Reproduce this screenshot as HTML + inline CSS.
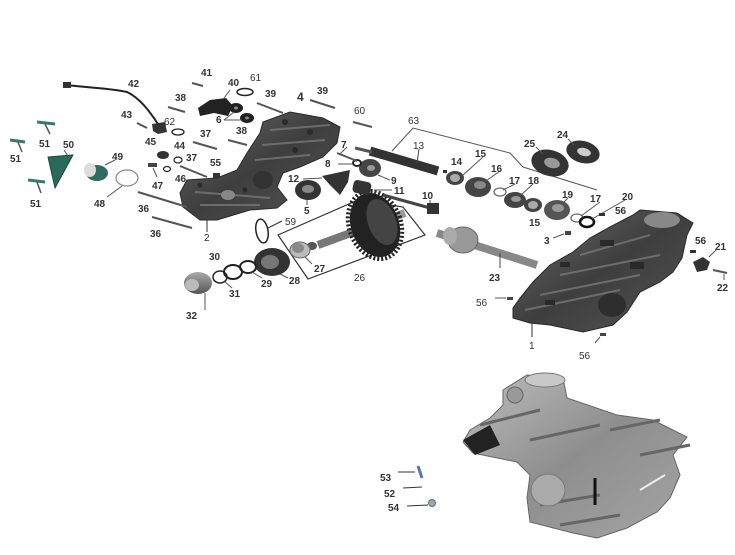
<!DOCTYPE html>
<html><head><meta charset="utf-8"><style>
html,body{margin:0;padding:0;background:#fff;}
svg{display:block;}
text{font-family:"Liberation Sans",sans-serif;font-size:10px;font-weight:bold;fill:#333;}
</style></head><body>
<svg width="735" height="555" viewBox="0 0 735 555" xmlns="http://www.w3.org/2000/svg">
<defs>
<linearGradient id="dk" x1="0" y1="0" x2="1" y2="1">
<stop offset="0" stop-color="#6a6a6a"/><stop offset="0.5" stop-color="#3e3e3e"/><stop offset="1" stop-color="#555"/>
</linearGradient>
<linearGradient id="lt" x1="0" y1="0" x2="1" y2="1">
<stop offset="0" stop-color="#bdbdbd"/><stop offset="0.5" stop-color="#8e8e8e"/><stop offset="1" stop-color="#a5a5a5"/>
</linearGradient>
<linearGradient id="sh" x1="0" y1="0" x2="0" y2="1">
<stop offset="0" stop-color="#aaa"/><stop offset="1" stop-color="#555"/>
</linearGradient>
</defs>
<rect width="735" height="555" fill="#fff"/>

<!-- LEFT CASING (2/4) -->
<polygon fill="url(#dk)" stroke="#2a2a2a" stroke-width="1" points="263,122 290,112 323,118 340,127 337,143 323,157 300,167 283,173 277,187 287,200 277,208 250,210 217,220 200,220 183,207 180,193 187,180 217,178 237,170 247,153 260,133"/>
<g stroke="#777" stroke-width="2" fill="none" opacity="0.8">
<path d="M270,130 L330,125"/><path d="M262,145 L325,140"/><path d="M255,160 L310,155"/><path d="M195,192 L270,198"/><path d="M200,205 L260,205"/>
</g>
<g fill="#2a2a2a">
<circle cx="285" cy="122" r="3"/><circle cx="310" cy="132" r="3"/><circle cx="295" cy="150" r="3"/><circle cx="200" cy="185" r="2.5"/><circle cx="245" cy="190" r="2.5"/>
</g>
<ellipse cx="263" cy="180" rx="10" ry="9" fill="#333"/>
<ellipse cx="228" cy="195" rx="7" ry="5" fill="#888"/>
<line x1="207" y1="220" x2="207" y2="232" stroke="#333"/>

<!-- RIGHT CASING (1) -->
<polygon fill="url(#dk)" stroke="#2a2a2a" stroke-width="1" points="640,210 677,213 693,223 687,235 682,258 673,272 660,282 640,292 627,312 613,325 583,332 550,325 530,323 513,318 513,308 520,298 533,282 550,265 573,252 590,238 610,227 633,215"/>
<g stroke="#777" stroke-width="2" fill="none" opacity="0.8">
<path d="M580,255 L650,235"/><path d="M560,275 L660,255"/><path d="M540,295 L640,275"/><path d="M525,310 L620,290"/>
</g>
<g fill="#2a2a2a">
<rect x="600" y="240" width="14" height="6"/><rect x="560" y="262" width="10" height="5"/><rect x="630" y="262" width="14" height="7"/><rect x="545" y="300" width="10" height="5"/>
</g>
<ellipse cx="662" cy="220" rx="18" ry="8" fill="#888"/>
<ellipse cx="612" cy="305" rx="14" ry="12" fill="#2e2e2e"/>
<line x1="532" y1="322" x2="532" y2="337" stroke="#333"/>

<!-- BOTTOM ASSEMBLED ENGINE -->
<polygon fill="url(#lt)" stroke="#666" stroke-width="1" points="503,390 527,375 563,378 567,398 617,415 653,420 687,437 673,455 680,475 670,498 657,512 627,528 597,538 573,533 530,522 527,498 530,475 517,462 473,453 463,442 470,430 490,418 503,405"/>
<ellipse cx="545" cy="380" rx="20" ry="7" fill="#c8c8c8" stroke="#777"/>
<ellipse cx="515" cy="395" rx="8" ry="8" fill="#999" stroke="#666"/>
<path d="M463,440 L490,425 L500,445 L475,455 Z" fill="#222"/>
<g stroke="#666" stroke-width="3" fill="none">
<path d="M480,425 L540,410"/><path d="M530,440 L600,425"/><path d="M610,430 L660,420"/><path d="M640,455 L690,445"/><path d="M540,505 L600,495"/><path d="M560,525 L620,515"/>
</g>
<ellipse cx="548" cy="490" rx="17" ry="16" fill="#aaa" stroke="#777"/>
<line x1="595" y1="478" x2="595" y2="505" stroke="#111" stroke-width="3"/>
<path d="M640,490 L665,475" stroke="#eee" stroke-width="2"/>

<!-- bolts 53/52/54 -->
<line x1="398" y1="472" x2="415" y2="472" stroke="#333"/>
<line x1="418" y1="466" x2="422" y2="478" stroke="#5577aa" stroke-width="3"/>
<line x1="403" y1="488" x2="422" y2="487" stroke="#333"/>
<line x1="407" y1="506" x2="428" y2="505" stroke="#333"/>
<circle cx="432" cy="503" r="3.5" fill="#9aa" stroke="#577"/>
<text x="380" y="481">53</text><text x="384" y="497">52</text><text x="388" y="511">54</text>

<!-- BOX 26 -->
<polygon points="278,235 358,200 403,207 425,235 308,279" fill="none" stroke="#333" stroke-width="1.2"/>
<line x1="318" y1="245" x2="405" y2="213" stroke="#999" stroke-width="8"/>
<line x1="318" y1="245" x2="370" y2="226" stroke="#777" stroke-width="8"/>
<ellipse cx="375" cy="225" rx="24" ry="33" fill="#222" transform="rotate(-20 375 225)"/>
<ellipse cx="375" cy="225" rx="26" ry="35" fill="none" stroke="#222" stroke-width="4" stroke-dasharray="2 2" transform="rotate(-20 375 225)"/>
<ellipse cx="382" cy="222" rx="14" ry="24" fill="#444" transform="rotate(-20 382 222)"/>
<ellipse cx="312" cy="246" rx="5" ry="4" fill="#555"/>
<!-- 27 -->
<ellipse cx="300" cy="250" rx="10" ry="8" fill="#bbb" stroke="#666"/>
<ellipse cx="298" cy="248" rx="6" ry="5" fill="#888"/>
<!-- 59 ring -->
<ellipse cx="262" cy="231" rx="6" ry="12" fill="none" stroke="#222" stroke-width="1.5" transform="rotate(-10 262 231)"/>
<line x1="268" y1="228" x2="282" y2="221" stroke="#333"/>
<!-- 28 -->
<ellipse cx="272" cy="262" rx="18" ry="14" fill="#333"/>
<ellipse cx="270" cy="262" rx="9" ry="7" fill="#777"/>
<!-- 29 30 31 rings -->
<ellipse cx="248" cy="267" rx="8" ry="6" fill="none" stroke="#222" stroke-width="2"/>
<ellipse cx="233" cy="272" rx="9" ry="7" fill="none" stroke="#222" stroke-width="2"/>
<ellipse cx="220" cy="277" rx="7" ry="6" fill="none" stroke="#222" stroke-width="1.5"/>
<!-- 32 -->
<ellipse cx="198" cy="283" rx="14" ry="11" fill="url(#sh)"/>
<ellipse cx="192" cy="285" rx="7" ry="6" fill="#bbb"/>
<line x1="205" y1="293" x2="205" y2="310" stroke="#555"/>
<line x1="225" y1="282" x2="232" y2="288" stroke="#555"/>
<line x1="252" y1="272" x2="262" y2="278" stroke="#555"/>
<line x1="280" y1="274" x2="288" y2="278" stroke="#555"/>
<line x1="305" y1="257" x2="312" y2="264" stroke="#555"/>

<text x="209" y="260">30</text><text x="229" y="297">31</text><text x="261" y="287">29</text><text x="289" y="284">28</text>
<text x="314" y="272">27</text><text x="186" y="319">32</text><text x="354" y="281" style="font-weight:normal">26</text>
<text x="285" y="225" style="font-weight:normal">59</text>

<!-- 23 shaft -->
<line x1="437" y1="233" x2="537" y2="265" stroke="#888" stroke-width="8"/>
<ellipse cx="463" cy="240" rx="15" ry="13" fill="#999" stroke="#666"/>
<ellipse cx="450" cy="236" rx="7" ry="9" fill="#aaa"/>
<line x1="500" y1="253" x2="500" y2="268" stroke="#444"/>
<text x="489" y="281">23</text>

<!-- 63 bracket -->
<polyline points="392,151 413,128 510,153 523,167 597,190" fill="none" stroke="#555"/>
<text x="408" y="124" style="font-weight:normal">63</text>
<!-- 13 shaft -->
<line x1="370" y1="151" x2="438" y2="171" stroke="#333" stroke-width="9"/>
<line x1="355" y1="148" x2="372" y2="152" stroke="#555" stroke-width="3"/>
<line x1="419" y1="149" x2="417" y2="163" stroke="#444"/>
<text x="413" y="149" style="font-weight:normal">13</text>
<!-- 14..20 -->
<rect x="443" y="170" width="4" height="3" fill="#333"/>
<ellipse cx="455" cy="178" rx="9" ry="7" fill="#444"/><ellipse cx="455" cy="178" rx="5" ry="4" fill="#aaa"/>
<ellipse cx="478" cy="187" rx="13" ry="10" fill="#444"/><ellipse cx="480" cy="185" rx="6" ry="4" fill="#888"/>
<ellipse cx="500" cy="192" rx="6" ry="4" fill="none" stroke="#666" stroke-width="1.2"/>
<ellipse cx="515" cy="200" rx="11" ry="8" fill="#444"/><ellipse cx="516" cy="199" rx="5" ry="3" fill="#999"/>
<ellipse cx="533" cy="205" rx="9" ry="7" fill="#444"/><ellipse cx="533" cy="205" rx="5" ry="4" fill="#aaa"/>
<ellipse cx="557" cy="210" rx="13" ry="10" fill="#555"/><ellipse cx="558" cy="208" rx="6" ry="4" fill="#999"/>
<ellipse cx="577" cy="218" rx="6" ry="4" fill="none" stroke="#666" stroke-width="1.2"/>
<ellipse cx="587" cy="222" rx="7" ry="5" fill="none" stroke="#111" stroke-width="2.5"/>
<!-- 25, 24 -->
<ellipse cx="550" cy="163" rx="19" ry="13" fill="#333" transform="rotate(15 550 163)"/>
<ellipse cx="552" cy="163" rx="8" ry="5" fill="#999" transform="rotate(15 552 163)"/>
<ellipse cx="583" cy="152" rx="17" ry="11" fill="#333" transform="rotate(15 583 152)"/>
<ellipse cx="584" cy="152" rx="7" ry="4" fill="#ccc" transform="rotate(15 584 152)"/>
<line x1="536" y1="147" x2="543" y2="154" stroke="#555"/>
<line x1="568" y1="139" x2="574" y2="145" stroke="#555"/>
<line x1="483" y1="157" x2="462" y2="176" stroke="#555"/>
<line x1="500" y1="171" x2="486" y2="181" stroke="#555"/>
<line x1="515" y1="184" x2="503" y2="190" stroke="#555"/>
<line x1="533" y1="184" x2="521" y2="195" stroke="#555"/>
<line x1="568" y1="198" x2="562" y2="204" stroke="#555"/>
<line x1="600" y1="202" x2="581" y2="216" stroke="#555"/>
<line x1="625" y1="200" x2="592" y2="219" stroke="#555"/>
<text x="451" y="165">14</text><text x="475" y="157">15</text><text x="491" y="172">16</text>
<text x="509" y="184">17</text><text x="528" y="184">18</text><text x="562" y="198">19</text>
<text x="529" y="226">15</text><text x="590" y="202">17</text><text x="622" y="200">20</text>
<text x="524" y="147">25</text><text x="557" y="138">24</text>
<!-- 56s, 3, 21, 22 -->
<rect x="599" y="213" width="6" height="3" fill="#333"/>
<text x="615" y="214">56</text>
<rect x="565" y="231" width="6" height="4" fill="#444"/><line x1="553" y1="238" x2="564" y2="234" stroke="#555"/>
<text x="544" y="244">3</text>
<rect x="690" y="250" width="6" height="3" fill="#333"/>
<text x="695" y="244">56</text>
<polygon points="693,262 703,257 710,262 707,270 697,272" fill="#333"/>
<line x1="709" y1="257" x2="716" y2="250" stroke="#555"/>
<text x="715" y="250">21</text>
<line x1="713" y1="270" x2="727" y2="273" stroke="#555" stroke-width="2"/>
<line x1="724" y1="274" x2="724" y2="280" stroke="#555"/>
<text x="717" y="291">22</text>
<rect x="507" y="297" width="6" height="3" fill="#444"/><line x1="495" y1="298" x2="506" y2="298" stroke="#555"/>
<text x="476" y="306" style="font-weight:normal">56</text>
<rect x="600" y="333" width="6" height="3" fill="#444"/><line x1="595" y1="343" x2="600" y2="337" stroke="#555"/>
<text x="579" y="359" style="font-weight:normal">56</text>
<text x="529" y="349" style="font-weight:normal">1</text>

<!-- 9, 8, 7, 11, 10, 12, 5 -->
<ellipse cx="370" cy="168" rx="11" ry="9" fill="#444"/><ellipse cx="371" cy="168" rx="4" ry="3" fill="#999"/>
<line x1="378" y1="175" x2="390" y2="180" stroke="#555"/>
<text x="391" y="184">9</text>
<ellipse cx="357" cy="163" rx="4" ry="3" fill="none" stroke="#222" stroke-width="2"/>
<text x="325" y="167">8</text><line x1="338" y1="164" x2="352" y2="164" stroke="#555"/>
<line x1="337" y1="153" x2="357" y2="161" stroke="#555" stroke-width="2"/>
<line x1="347" y1="147" x2="340" y2="154" stroke="#555"/>
<text x="341" y="148">7</text>
<rect x="353" y="181" width="18" height="13" rx="4" fill="#333" transform="rotate(12 362 187)"/>
<line x1="374" y1="190" x2="392" y2="190" stroke="#555"/>
<text x="394" y="194">11</text>
<line x1="383" y1="195" x2="430" y2="208" stroke="#444" stroke-width="3"/>
<rect x="427" y="203" width="12" height="11" fill="#333"/>
<line x1="430" y1="200" x2="430" y2="203" stroke="#555"/>
<text x="422" y="199">10</text>
<polygon points="322,176 350,170 348,182 340,195 330,185" fill="#333"/>
<text x="288" y="182">12</text><line x1="303" y1="179" x2="322" y2="178" stroke="#555"/>
<ellipse cx="308" cy="190" rx="13" ry="10" fill="#333"/><ellipse cx="308" cy="189" rx="6" ry="4" fill="#888"/>
<line x1="307" y1="200" x2="307" y2="205" stroke="#555"/>
<text x="304" y="214">5</text>

<!-- top bolts -->
<g stroke="#555" stroke-width="2">
<line x1="192" y1="83" x2="203" y2="86"/>
<line x1="168" y1="107" x2="185" y2="112"/>
<line x1="257" y1="103" x2="283" y2="113"/>
<line x1="310" y1="100" x2="335" y2="108"/>
<line x1="353" y1="122" x2="372" y2="127"/>
<line x1="228" y1="140" x2="247" y2="145"/>
<line x1="193" y1="142" x2="217" y2="149"/>
<line x1="180" y1="166" x2="207" y2="177"/>
<line x1="138" y1="192" x2="187" y2="207"/>
<line x1="152" y1="217" x2="192" y2="228"/>
</g>
<text x="201" y="76">41</text><text x="228" y="86">40</text><text x="250" y="81" style="font-weight:normal">61</text>
<text x="175" y="101">38</text><text x="265" y="97">39</text><text x="297" y="101" style="font-size:12px">4</text>
<text x="317" y="94">39</text><text x="354" y="114" style="font-weight:normal">60</text>
<text x="236" y="134">38</text><text x="200" y="137">37</text><text x="186" y="161">37</text>
<text x="138" y="212">36</text><text x="150" y="237">36</text><text x="204" y="241" style="font-weight:normal">2</text>
<text x="216" y="123">6</text>
<!-- 40, 6, 61 -->
<polygon points="198,108 210,100 226,98 233,106 228,116 214,113 200,116" fill="#222"/>
<ellipse cx="236" cy="108" rx="7" ry="5" fill="#222"/><ellipse cx="236" cy="108" rx="2" ry="1.5" fill="#888"/>
<ellipse cx="247" cy="118" rx="7" ry="5" fill="#222"/><ellipse cx="247" cy="118" rx="2" ry="1.5" fill="#888"/>
<ellipse cx="245" cy="92" rx="8" ry="3.5" fill="none" stroke="#222" stroke-width="1.5"/>
<line x1="224" y1="120" x2="234" y2="112" stroke="#555"/><line x1="224" y1="120" x2="242" y2="120" stroke="#555"/>
<line x1="230" y1="90" x2="224" y2="98" stroke="#555"/>

<!-- 42 wire -->
<path d="M67,85 C90,88 110,88 127,92 C140,98 150,112 158,124" fill="none" stroke="#222" stroke-width="2"/>
<rect x="63" y="82" width="8" height="6" fill="#333"/>
<polygon points="152,124 165,122 167,132 158,134 153,131" fill="#333"/>
<text x="128" y="87">42</text>
<line x1="137" y1="123" x2="147" y2="128" stroke="#555" stroke-width="2"/>
<text x="121" y="118">43</text>
<ellipse cx="178" cy="132" rx="6" ry="3" fill="none" stroke="#222" stroke-width="1.3"/>
<text x="164" y="125" style="font-weight:normal">62</text>
<ellipse cx="163" cy="155" rx="6" ry="4" fill="#333"/>
<text x="145" y="145">45</text>
<ellipse cx="178" cy="160" rx="4" ry="3" fill="none" stroke="#222" stroke-width="1.2"/>
<text x="174" y="149">44</text>
<ellipse cx="167" cy="169" rx="3.5" ry="2.5" fill="none" stroke="#222" stroke-width="1.2"/>
<text x="175" y="182">46</text>
<rect x="148" y="163" width="9" height="4" fill="#444"/>
<line x1="153" y1="168" x2="157" y2="177" stroke="#555"/>
<text x="152" y="189">47</text>
<rect x="213" y="173" width="7" height="5" fill="#333"/>
<text x="210" y="166">55</text>

<!-- 48-51 -->
<ellipse cx="127" cy="178" rx="11" ry="8" fill="none" stroke="#888" stroke-width="1.2"/>
<line x1="122" y1="186" x2="107" y2="197" stroke="#555"/>
<text x="94" y="207">48</text>
<ellipse cx="97" cy="173" rx="11" ry="8" fill="#2f6b5e"/>
<ellipse cx="90" cy="170" rx="6" ry="7" fill="#ddd"/>
<line x1="105" y1="165" x2="115" y2="160" stroke="#555"/>
<text x="112" y="160">49</text>
<polygon points="48,157 73,155 55,188" fill="#2a6a5a" stroke="#1a4a3a"/>
<line x1="64" y1="150" x2="68" y2="156" stroke="#555"/>
<text x="63" y="148">50</text>
<g stroke="#3a7a6a" stroke-width="3" fill="none">
<line x1="37" y1="122" x2="55" y2="124"/><line x1="10" y1="140" x2="25" y2="142"/><line x1="28" y1="180" x2="45" y2="182"/>
</g>
<g stroke="#555" stroke-width="1.5">
<line x1="45" y1="124" x2="50" y2="134"/><line x1="18" y1="142" x2="22" y2="152"/><line x1="37" y1="182" x2="41" y2="193"/>
</g>
<text x="39" y="147">51</text><text x="10" y="162">51</text><text x="30" y="207">51</text>
</svg>
</body></html>
